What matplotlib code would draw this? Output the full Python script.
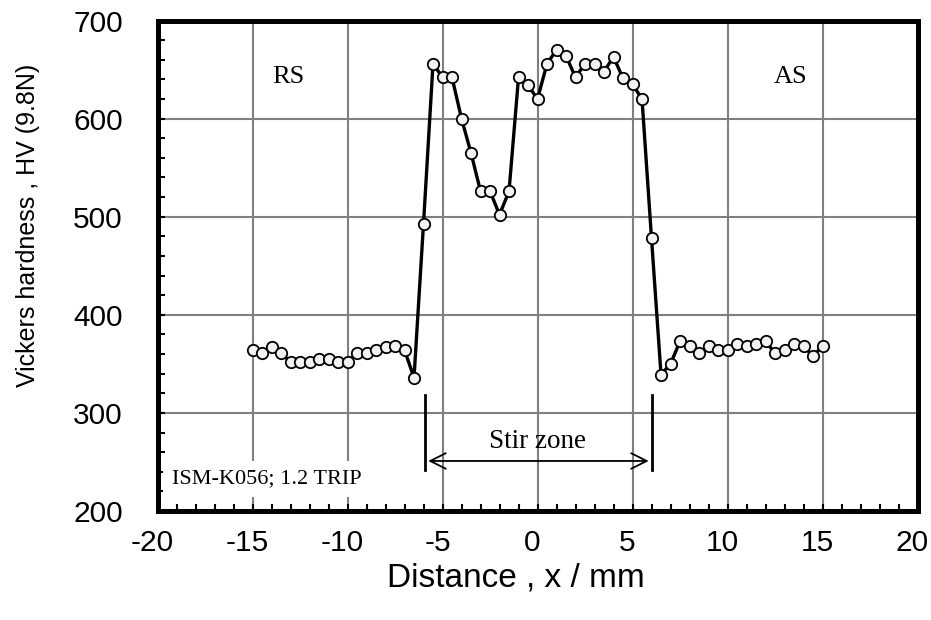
import matplotlib.pyplot as plt
import matplotlib as mpl
import matplotlib.transforms as mtransforms
from matplotlib.ticker import MultipleLocator

# distance from weld centre (mm) and measured hardness
distance = [-15.0, -14.5, -14.0, -13.5, -13.0, -12.5, -12.0, -11.5, -11.0, -10.5,
            -10.0, -9.5, -9.0, -8.5, -8.0, -7.5, -7.0, -6.5, -6.0, -5.5,
            -5.0, -4.5, -4.0, -3.5, -3.0, -2.5, -2.0, -1.5, -1.0, -0.5,
            0.0, 0.5, 1.0, 1.5, 2.0, 2.5, 3.0, 3.5, 4.0, 4.5,
            5.0, 5.5, 6.0, 6.5, 7.0, 7.5, 8.0, 8.5, 9.0, 9.5,
            10.0, 10.5, 11.0, 11.5, 12.0, 12.5, 13.0, 13.5, 14.0, 14.5, 15.0]
hardness = [364, 361, 367, 361, 352, 352, 352, 355, 355, 352,
            352, 361, 361, 364, 367, 368, 364, 336, 493, 656,
            642, 642, 600, 565, 526, 526, 502, 526, 642, 634,
            620, 656, 670, 664, 642, 656, 656, 648, 663, 641,
            635, 620, 478, 339, 350, 373, 368, 361, 368, 364,
            364, 370, 368, 370, 373, 361, 364, 370, 368, 358, 368]

stir_zone = [-5.9, 6.0]


def main():
    mpl.rcParams['font.family'] = 'Liberation Sans'
    plt.rcParams['axes.unicode_minus'] = False
    serif = 'Liberation Serif'

    fig = plt.figure(figsize=(9.31, 6.2), dpi=100)
    ax = fig.add_axes([0.1692, 0.1758, 0.8163, 0.7911])

    ax.plot(distance, hardness, '-o', color='black', lw=2.4,
            marker='o', ms=8.2, mfc='#f2f2f2', mec='black', mew=1.3, zorder=4)

    ax.set_xlim(-20, 20)
    ax.set_ylim(200, 700)
    ax.xaxis.set_major_locator(MultipleLocator(5))
    ax.xaxis.set_minor_locator(MultipleLocator(1))
    ax.yaxis.set_major_locator(MultipleLocator(100))
    ax.yaxis.set_minor_locator(MultipleLocator(20))
    ax.grid(True, which='major', color='#808080', lw=1.5, zorder=1)

    for side in ['left', 'right', 'top', 'bottom']:
        ax.spines[side].set_linewidth(3.6)
    ax.xaxis.set_tick_params(which='both', direction='in', length=5, width=1.5,
                             labelsize=21.5, pad=13)
    ax.yaxis.set_tick_params(which='both', direction='in', length=5, width=1.5,
                             labelsize=21.5, pad=25)

    # shift x tick labels slightly left, as in the original
    shift = mtransforms.ScaledTranslation(-0.05, 0, fig.dpi_scale_trans)
    for lbl in ax.get_xticklabels():
        lbl.set_transform(lbl.get_transform() + shift)

    ax.set_xlabel('Distance , x / mm', fontsize=24, va='center')
    ax.xaxis.set_label_coords(0.472, -0.137)
    ax.set_ylabel('Vickers hardness , HV (9.8N)', fontsize=18, va='center')
    ax.yaxis.set_label_coords(-0.170, 0.583)

    # region labels
    ax.text(-13.1, 642, 'RS', family=serif, fontsize=19, ha='center', va='center')
    ax.text(13.3, 642, 'AS', family=serif, fontsize=19, ha='center', va='center')

    # stir zone marker
    for xs in stir_zone:
        ax.plot([xs, xs], [242, 318], color='black', lw=2, zorder=3)
    ax.annotate('', xy=(stir_zone[1], 251), xytext=(stir_zone[0], 251),
                arrowprops=dict(arrowstyle='<->', color='black', lw=1.3,
                                mutation_scale=28), zorder=3)
    ax.text(0.0, 271, 'Stir zone', family=serif, fontsize=19.5,
            ha='center', va='center')

    ax.text(-19.25, 233, 'ISM-K056; 1.2 TRIP', family=serif, fontsize=16,
            ha='left', va='center', zorder=2,
            bbox=dict(fc='white', ec='none', pad=6))

    fig.savefig('out.png', dpi=100)


if __name__ == '__main__':
    main()
